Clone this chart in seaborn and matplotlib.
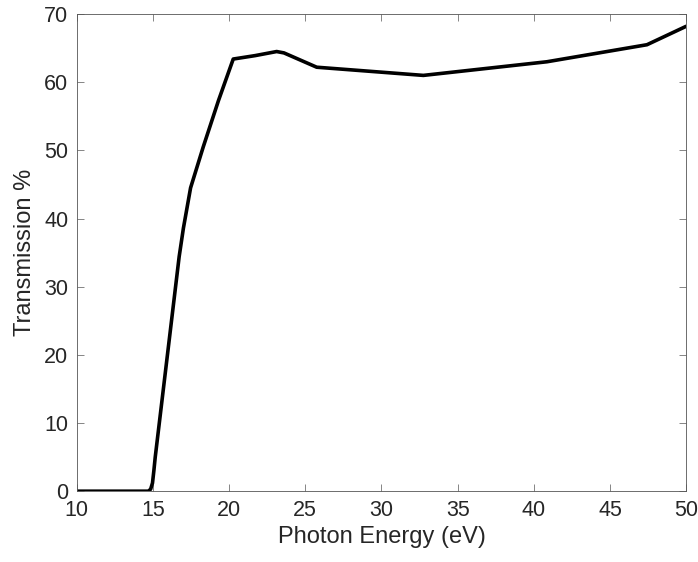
import matplotlib
matplotlib.use("Agg")
import matplotlib.pyplot as plt
import seaborn as sns
import pandas as pd

# Transmission curve vs photon energy
energy_ev = [10.0, 14.7, 14.85, 14.97, 15.06, 15.15, 16.72,
             17.0, 17.47, 18.3, 19.3, 20.27, 21.7, 23.12, 23.6, 25.75,
             32.75, 40.86, 47.43, 50.0]
transmission_pct = [0.0, 0.0, 0.3, 1.2, 3.0, 5.0, 34.4,
                    38.6, 44.5, 50.5, 57.3, 63.4, 63.9, 64.5, 64.3, 62.2,
                    61.0, 63.0, 65.5, 68.2]

x_ticks = [10, 15, 20, 25, 30, 35, 40, 45, 50]
y_ticks = [0, 10, 20, 30, 40, 50, 60, 70]

sns.set_theme(style="white")
plt.rcParams["font.family"] = ["Liberation Sans", "DejaVu Sans"]

df = pd.DataFrame({"energy": energy_ev, "transmission": transmission_pct})

fig = plt.figure(figsize=(6.98, 5.62), dpi=100)
ax = fig.add_axes([0.110, 0.126, 0.873, 0.849])

sns.lineplot(data=df, x="energy", y="transmission", ax=ax,
             color="black", linewidth=2.6, sort=False)

axis_col = "#262626"
ax.set_xlim(10, 50)
ax.set_ylim(0, 70)
ax.set_xticks(x_ticks)
ax.set_yticks(y_ticks)
ax.set_xlabel("Photon Energy (eV)", fontsize=17, color=axis_col, labelpad=4)
ax.set_ylabel("Transmission %", fontsize=17, color=axis_col, labelpad=6)
ax.tick_params(direction="in", length=5, width=0.5, color="#555555",
               labelcolor=axis_col, labelsize=15.5, top=True, right=True,
               bottom=True, left=True, pad=6)
for s in ax.spines.values():
    s.set_visible(True)
    s.set_color("#555555")
    s.set_linewidth(0.6)

fig.savefig("out.png", dpi=100)
